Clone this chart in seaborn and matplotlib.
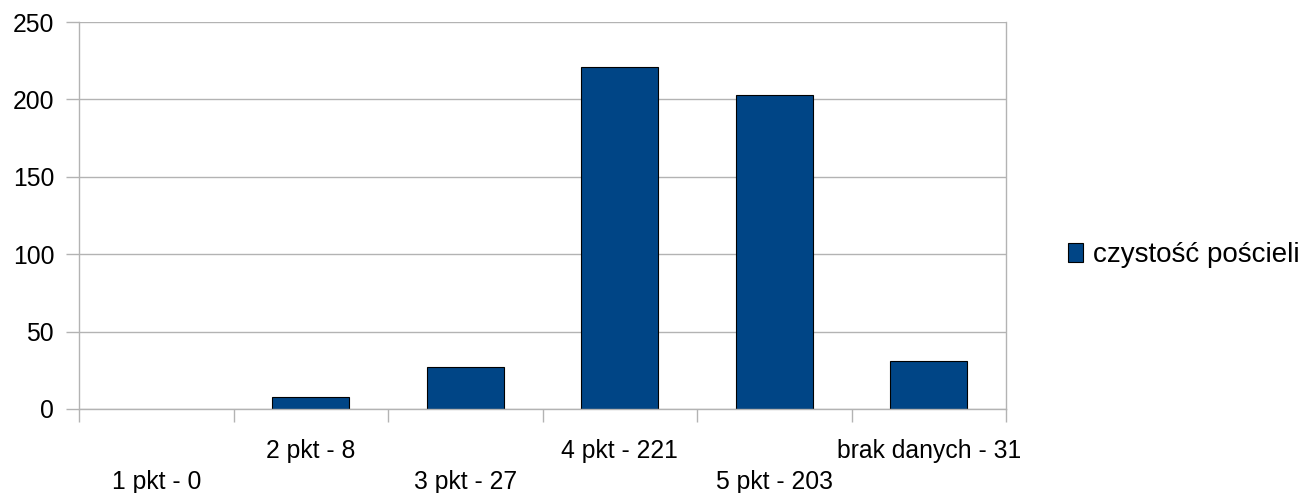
import matplotlib
matplotlib.use("Agg")
import matplotlib.pyplot as plt
from matplotlib.patches import Patch
from matplotlib.transforms import ScaledTranslation
import numpy as np
import pandas as pd
import seaborn as sns

categories = ["1 pkt - 0", "2 pkt - 8", "3 pkt - 27", "4 pkt - 221", "5 pkt - 203", "brak danych - 31"]
values = [0, 8, 27, 221, 203, 31]
series_name = "czystość pościeli"
y_ticks = [0, 50, 100, 150, 200, 250]

sns.set_theme(style="white")
plt.rcParams["font.family"] = ["Liberation Sans", "DejaVu Sans"]
plt.rcParams["text.color"] = "black"

GRID = "#b3b3b3"
BAR = "#004586"
FS = 17.8

fig = plt.figure(figsize=(13.0, 4.93), dpi=100)
ax = fig.add_axes([79 / 1300, 1 - 409 / 493, (1006 - 79) / 1300, (409 - 22) / 493])

df = pd.DataFrame({"cat": categories, "val": values})
sns.barplot(data=df, x="cat", y="val", order=categories, color=BAR,
            edgecolor="black", linewidth=0.8, width=0.5, saturation=1, ax=ax)
for p in ax.patches:
    if p.get_height() == 0:
        p.set_edgecolor("none")

ax.set_xlim(-0.5, len(categories) - 0.5)
ax.set_ylim(0, 250)
ax.set_yticks(y_ticks)
ax.set_yticklabels([str(t) for t in y_ticks], fontsize=FS, color="black")
ax.set_xlabel("")
ax.set_ylabel("")
ax.yaxis.grid(True, color=GRID, linewidth=1)
ax.set_axisbelow(True)

# category boundaries carry the tick marks, centers carry the labels
ax.set_xticks(np.arange(-0.5, len(categories)), minor=False)
ax.set_xticklabels([])
ax.set_xticks(np.arange(len(categories)), minor=True)
ax.set_xticklabels(categories, minor=True, fontsize=FS, color="black")
ax.tick_params(axis="x", which="major", bottom=True, length=9.4, width=1, color=GRID, direction="out")
ax.tick_params(axis="x", which="minor", bottom=True, length=0, pad=21.5)
ax.tick_params(axis="y", left=True, length=9.4, width=1, color=GRID, direction="out", pad=8.5)

for i, lbl in enumerate(ax.get_xticklabels(minor=True)):
    if i % 2 == 0:
        lbl.set_transform(lbl.get_transform() + ScaledTranslation(0, -0.315, fig.dpi_scale_trans))

for side in ["left", "right", "bottom", "top"]:
    ax.spines[side].set_color(GRID)
    ax.spines[side].set_linewidth(1)
ax.spines["top"].set_visible(False)

handle = Patch(facecolor=BAR, edgecolor="black", linewidth=0.8)
fig.legend([handle], [series_name], loc="center left",
           bbox_to_anchor=(1068 / 1300, 1 - 255 / 493), frameon=False,
           prop={"size": 20}, handlelength=0.55, handleheight=0.7, handletextpad=0.35,
           borderaxespad=0, borderpad=0, labelcolor="black")

fig.savefig("out.png", dpi=100)
